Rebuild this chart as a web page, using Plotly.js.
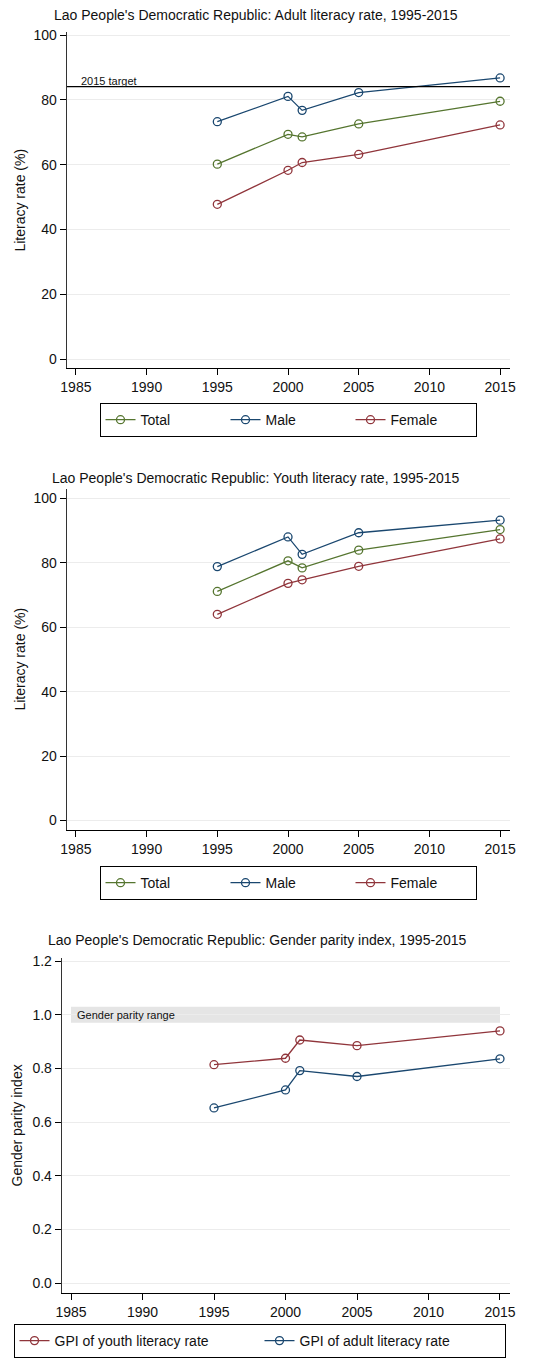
<!DOCTYPE html>
<html><head><meta charset="utf-8">
<script src="https://cdn.plot.ly/plotly-3.0.1.min.js"></script>
<style>html,body{margin:0;padding:0;background:#fff;overflow:hidden;width:557px;height:1358px}</style></head>
<body><div id="chart" style="width:557px;height:1358px;overflow:hidden"></div>
<script>
const years = [1995, 2000, 2001, 2005, 2015];
const adultTotal = [60.2, 69.4, 68.6, 72.6, 79.6];
const adultMale = [73.3, 81.1, 76.8, 82.3, 86.8];
const adultFemale = [47.8, 58.3, 60.7, 63.2, 72.3];
const youthTotal = [71.1, 80.6, 78.4, 83.9, 90.3];
const youthMale = [78.8, 88.0, 82.6, 89.3, 93.2];
const youthFemale = [64.0, 73.6, 74.7, 78.9, 87.4];
const gpiYouth = [0.814, 0.838, 0.906, 0.885, 0.940];
const gpiAdult = [0.653, 0.720, 0.792, 0.770, 0.836];
const target2015 = 84.1;
const parityRange = [0.97, 1.03];
const parityYears = [1985, 2015];
const xTicks = [1985, 1990, 1995, 2000, 2005, 2010, 2015];
const rateTicks = [0, 20, 40, 60, 80, 100];
const gpiTicks = [0, 0.2, 0.4, 0.6, 0.8, 1.0, 1.2];
const gpiTickText = ['0.0', '0.2', '0.4', '0.6', '0.8', '1.0', '1.2'];
const titles = [
  "Lao People's Democratic Republic: Adult literacy rate, 1995-2015",
  "Lao People's Democratic Republic: Youth literacy rate, 1995-2015",
  "Lao People's Democratic Republic: Gender parity index, 1995-2015"
];

const W = 557, H = 1358;
const px = x => x / W;
const py = y => 1 - y / H;
const FONT = 'Liberation Sans, Arial, sans-serif';
const GREEN = '#55752f', NAVY = '#1a476f', MAROON = '#90353b';

function tr(x, y, name, color, xa, ya, leg) {
  return {
    x: x, y: y, name: name, type: 'scatter', mode: 'lines+markers',
    xaxis: xa, yaxis: ya, legend: leg,
    line: {color: color, width: 1.3},
    marker: {symbol: 'circle-open', size: 8, color: color, line: {width: 1.3, color: color}}
  };
}

const data = [
  tr(years, adultTotal, 'Total', GREEN, 'x', 'y', 'legend'),
  tr(years, adultMale, 'Male', NAVY, 'x', 'y', 'legend'),
  tr(years, adultFemale, 'Female', MAROON, 'x', 'y', 'legend'),
  tr(years, youthTotal, 'Total', GREEN, 'x2', 'y2', 'legend2'),
  tr(years, youthMale, 'Male', NAVY, 'x2', 'y2', 'legend2'),
  tr(years, youthFemale, 'Female', MAROON, 'x2', 'y2', 'legend2'),
  tr(years, gpiYouth, 'GPI of youth literacy rate', MAROON, 'x3', 'y3', 'legend3'),
  tr(years, gpiAdult, 'GPI of adult literacy rate', NAVY, 'x3', 'y3', 'legend3')
];

function xax(domL, anchor) {
  return {
    domain: [px(domL), px(510)], anchor: anchor,
    range: [1984.37, 2015.7], tickvals: xTicks, showgrid: false, zeroline: false,
    showline: true, linecolor: '#000', linewidth: 1,
    ticks: 'outside', ticklen: 6, tickcolor: '#000', tickwidth: 1,
    tickfont: {family: FONT, size: 14, color: '#111'}
  };
}
function yax(top, bot, range, anchor, tv, tt) {
  const a = {
    domain: [py(bot), py(top)], anchor: anchor, range: range,
    tickvals: tv, showgrid: true, gridcolor: '#ececec', gridwidth: 1, zeroline: false,
    showline: true, linecolor: '#333', linewidth: 1.3,
    ticks: 'outside', ticklen: 6, tickcolor: '#000', tickwidth: 1,
    tickfont: {family: FONT, size: 14, color: '#111'}
  };
  if (tt) a.ticktext = tt;
  return a;
}

function legend(cx, top, ew) {
  return {
    orientation: 'h', x: px(cx), xanchor: 'center', y: py(top), yanchor: 'top',
    bordercolor: '#000', borderwidth: 1, bgcolor: '#fff',
    font: {family: FONT, size: 14, color: '#111'},
    entrywidth: ew, entrywidthmode: 'pixels', itemclick: false, tracegroupgap: 0
  };
}

const layout = {
  width: W, height: H, margin: {l: 0, r: 0, t: 0, b: 0},
  paper_bgcolor: '#fff', plot_bgcolor: '#fff', showlegend: true,
  font: {family: FONT, color: '#111'},
  xaxis: xax(67, 'y'),
  yaxis: yax(32, 369, [-2.77, 101.0], 'x', rateTicks),
  xaxis2: xax(67, 'y2'),
  yaxis2: yax(490, 832, [-2.97, 102.9], 'x2', rateTicks),
  xaxis3: xax(62, 'y3'),
  yaxis3: yax(960, 1296, [-0.037, 1.212], 'x3', gpiTicks, gpiTickText),
  legend: legend(288, 404, 80),
  legend2: legend(288, 868, 80),
  legend3: legend(259.5, 1327, 200),
  shapes: [
    {type: 'line', xref: 'x domain', yref: 'y', x0: 0, x1: 1, y0: target2015, y1: target2015,
     line: {color: '#000', width: 1.2}},
    {type: 'rect', xref: 'x3', yref: 'y3', x0: parityYears[0], x1: parityYears[1],
     y0: parityRange[0], y1: parityRange[1], fillcolor: '#e5e5e5', line: {width: 0}, layer: 'below'}
  ],
  annotations: [
    {text: titles[0], xref: 'paper', yref: 'paper', x: px(256), y: py(15), xanchor: 'center', yanchor: 'middle', showarrow: false, font: {family: FONT, size: 14, color: '#111'}},
    {text: titles[1], xref: 'paper', yref: 'paper', x: px(256), y: py(479), xanchor: 'center', yanchor: 'middle', showarrow: false, font: {family: FONT, size: 14, color: '#111'}},
    {text: titles[2], xref: 'paper', yref: 'paper', x: px(257), y: py(942), xanchor: 'center', yanchor: 'middle', showarrow: false, font: {family: FONT, size: 14, color: '#111'}},
    {text: 'Literacy rate (%)', xref: 'paper', yref: 'paper', x: px(20), y: py(201), textangle: -90, xanchor: 'center', yanchor: 'middle', showarrow: false, font: {family: FONT, size: 14, color: '#111'}},
    {text: 'Literacy rate (%)', xref: 'paper', yref: 'paper', x: px(20), y: py(661), textangle: -90, xanchor: 'center', yanchor: 'middle', showarrow: false, font: {family: FONT, size: 14, color: '#111'}},
    {text: 'Gender parity index', xref: 'paper', yref: 'paper', x: px(17), y: py(1128), textangle: -90, xanchor: 'center', yanchor: 'middle', showarrow: false, font: {family: FONT, size: 14, color: '#111'}},
    {text: '2015 target', xref: 'x', yref: 'y', x: 1985.2, y: target2015, xanchor: 'left', yanchor: 'bottom', yshift: -2, showarrow: false, font: {family: FONT, size: 11, color: '#111'}},
    {text: 'Gender parity range', xref: 'x3', yref: 'y3', x: 1985.3, y: (parityRange[0] + parityRange[1]) / 2, xanchor: 'left', yanchor: 'middle', showarrow: false, font: {family: FONT, size: 11, color: '#111'}}
  ]
};

Plotly.newPlot('chart', data, layout, {displayModeBar: false, staticPlot: true});
</script>
</body></html>
